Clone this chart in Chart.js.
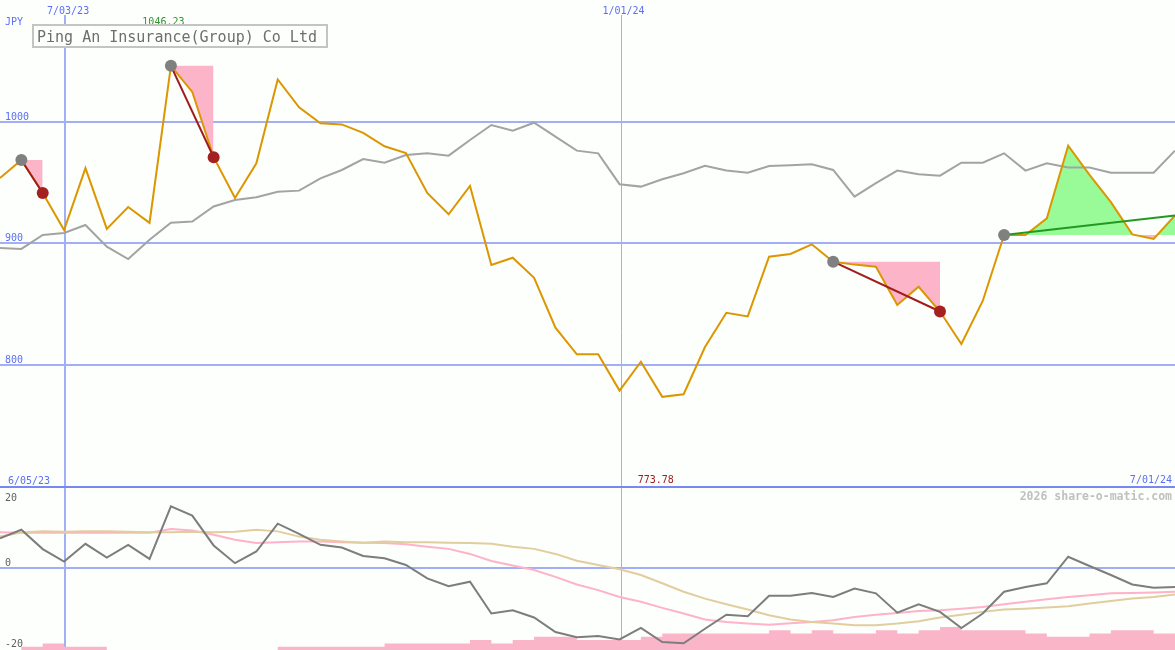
<!DOCTYPE html>
<html><head><meta charset="utf-8">
<script src="https://cdn.jsdelivr.net/npm/chart.js@4.4.1/dist/chart.umd.min.js"></script>
<style>html,body{margin:0;padding:0;background:#fcfffc;overflow:hidden}canvas{display:block}</style>
</head><body>
<canvas id="c" width="1175" height="650"></canvas>
<script>
// ---- data ----
const dates = ['6/12/23','6/19/23','6/26/23','7/03/23','7/10/23','7/17/23','7/24/23','7/31/23','8/07/23','8/14/23','8/21/23','8/28/23','9/04/23','9/11/23','9/18/23','9/25/23','10/02/23','10/09/23','10/16/23','10/23/23','10/30/23','11/06/23','11/13/23','11/20/23','11/27/23','12/04/23','12/11/23','12/18/23','12/25/23','1/01/24','1/08/24','1/15/24','1/22/24','1/29/24','2/05/24','2/12/24','2/19/24','2/26/24','3/04/24','3/11/24','3/18/24','3/25/24','4/01/24','4/08/24','4/15/24','4/22/24','4/29/24','5/06/24','5/13/24','5/20/24','5/27/24','6/03/24','6/10/24','6/17/24','6/24/24','7/01/24'];
const price = [953.9,968.7,941.6,911.1,962.0,912.0,930.0,917.0,1046.23,1024.7,971.0,937.4,966.0,1035.0,1012.0,999.0,998.0,991.0,980.0,974.5,941.6,924.0,947.3,882.3,888.3,871.8,830.7,808.8,808.8,778.9,802.7,773.78,775.9,814.8,843.0,840.0,889.1,891.4,899.3,885.0,882.6,880.9,849.4,864.4,844.0,817.3,852.7,907.0,907.0,920.7,980.5,956.5,934.0,907.5,903.7,923.0];
const compare = [896.3,895.5,907.0,908.6,915.2,897.4,887.2,903.0,917.0,918.0,930.5,935.8,938.0,942.6,943.5,953.6,960.5,969.5,966.5,972.8,974.2,972.3,985.2,997.5,992.8,999.4,987.9,976.4,974.2,948.8,946.8,952.8,957.8,964.0,960.0,958.3,963.8,964.4,965.2,960.5,938.6,949.6,960.0,957.0,955.8,966.5,966.5,974.2,960.0,966.0,962.5,962.5,958.3,958.3,958.3,976.4];
const momentum = [7.4,9.5,4.7,1.6,6.0,2.6,5.75,2.25,15.3,13.0,5.6,1.2,4.1,11.0,8.5,5.75,5.1,3.0,2.4,0.75,-2.6,-4.5,-3.4,-11.3,-10.5,-12.3,-15.9,-17.2,-16.9,-17.75,-14.9,-18.4,-18.7,-15.1,-11.6,-12.0,-6.9,-6.9,-6.2,-7.2,-5.1,-6.3,-11.1,-9.0,-10.9,-14.9,-11.3,-5.9,-4.7,-3.8,2.8,0.5,-1.75,-4.1,-4.9,-4.7];
const maFast = [8.9,8.75,8.75,8.75,8.75,8.75,8.75,8.75,9.7,9.3,8.25,7.0,6.2,6.4,6.6,6.6,6.4,6.3,6.2,5.9,5.3,4.75,3.5,1.75,0.6,-0.5,-2.2,-4.1,-5.5,-7.2,-8.4,-9.9,-11.3,-12.8,-13.4,-13.8,-14.1,-13.7,-13.4,-13.0,-12.2,-11.6,-11.2,-10.7,-10.5,-10.1,-9.7,-9.0,-8.4,-7.75,-7.2,-6.75,-6.3,-6.2,-6.1,-5.9];
const maSlow = [7.8,8.8,9.1,9.0,9.1,9.1,9.0,8.9,8.9,9.0,8.9,9.0,9.5,9.1,7.8,7.0,6.6,6.3,6.6,6.4,6.4,6.3,6.2,6.0,5.3,4.75,3.5,1.8,0.75,-0.3,-1.75,-3.8,-5.9,-7.6,-9.0,-10.3,-11.75,-12.8,-13.4,-13.8,-14.25,-14.25,-13.8,-13.2,-12.3,-11.6,-10.9,-10.3,-10.1,-9.8,-9.5,-8.8,-8.2,-7.6,-7.2,-6.6];
// weekly volume (each week drawn until the next week starts)
const volume = [0,1,2,1,1,0,0,0,0,0,0,0,0,1,1,1,1,1,2,2,2,2,3,2,3,4,4,3,3,3,4,5,5,5,5,5,6,5,6,5,5,6,5,6,7,6,6,6,5,4,4,5,6,6,5,5];
const priceTicks = [800, 900, 1000];
const oscTicks = [20, 0, -20];
const markedDates = ['7/03/23', '1/01/24'];
const rangeLabels = ['6/05/23', '7/01/24'];
const falls = [[1, 2], [8, 10], [39, 44]];
const rises = [[47, 55]];
const title = 'Ping An Insurance(Group) Co Ltd';
const currency = 'JPY';
const credit = '2026 share-o-matic.com';

// ---- styles ----
const BLUE = '#5b6ff5', GRID = '#a2aef5', SEP = '#7888f0';
const MONO = '"DejaVu Sans Mono", "Liberation Mono", monospace';

function sparse(entries) {
  const a = new Array(dates.length).fill(null);
  entries.forEach(([i, v]) => { a[i] = v; });
  return a;
}
function range(a, b) { const r = []; for (let i = a; i <= b; i++) r.push(i); return r; }

const datasets = [];
function line(data, color, order, extra) {
  return Object.assign({type: 'line', data, borderColor: color, backgroundColor: color, borderWidth: 2,
    pointRadius: 0, pointHoverRadius: 0, tension: 0, fill: false, order, xAxisID: 'x', yAxisID: 'y'}, extra || {});
}

// signal fills (level + price segment)
const signals = falls.map(s => ({s, rise: false})).concat(rises.map(s => ({s, rise: true})));
signals.forEach(({s, rise}) => {
  const [a, b] = s;
  const lvlIdx = datasets.length;
  datasets.push(line(sparse(range(a, b).map(i => [i, price[a]])), 'rgba(0,0,0,0)', 8));
  datasets.push(line(sparse(range(a, b).map(i => [i, price[i]])), 'rgba(0,0,0,0)', 7,
    {fill: {target: lvlIdx, above: '#98fb98', below: '#fcb4c9'}}));
});
// main lines
datasets.push(line(compare, '#a3a3a3', 4));
datasets.push(line(price, '#dc9600', 3));
// signal connector lines
signals.forEach(({s, rise}) => {
  const [a, b] = s;
  datasets.push(line(sparse([[a, price[a]], [b, price[b]]]), rise ? '#229922' : '#a01c1c', 2, {spanGaps: true}));
});
// dots
datasets.push(line(sparse(signals.map(({s}) => [s[0], price[s[0]]])), '#808080', 1,
  {showLine: false, pointRadius: 6, pointBorderWidth: 0, pointBackgroundColor: '#808080'}));
datasets.push(line(sparse(falls.map(s => [s[1], price[s[1]]])), '#a52020', 0,
  {showLine: false, pointRadius: 6, pointBorderWidth: 0, pointBackgroundColor: '#a52020'}));
// lower panel
datasets.push(line(maFast, '#ffb2c8', 6, {yAxisID: 'y2'}));
datasets.push(line(maSlow, '#e2cd9e', 5, {yAxisID: 'y2'}));
datasets.push(line(momentum, '#7d7d7d', 4, {yAxisID: 'y2'}));
datasets.push(line(volume, 'rgba(0,0,0,0)', 9, {yAxisID: 'y3', stepped: 'before', borderWidth: 0,
  fill: 'start', backgroundColor: '#fbb5c9'}));

const panel = {
  id: 'panel',
  beforeDraw(chart) {
    const ctx = chart.ctx;
    ctx.save(); ctx.fillStyle = '#fcfffc'; ctx.fillRect(0, 0, chart.width, chart.height); ctx.restore();
  },
  beforeDatasetsDraw(chart) {
    const {ctx, scales: {x, y, y2}} = chart;
    const W = chart.width, H = chart.height;
    ctx.save();
    ctx.strokeStyle = GRID; ctx.lineWidth = 2;
    priceTicks.forEach(v => { const py = Math.round(y.getPixelForValue(v)); ctx.beginPath(); ctx.moveTo(0, py); ctx.lineTo(W, py); ctx.stroke(); });
    const pz = Math.round(y2.getPixelForValue(0));
    ctx.beginPath(); ctx.moveTo(0, pz); ctx.lineTo(W, pz); ctx.stroke();
    markedDates.forEach((d, k) => {
      const px = Math.round(x.getPixelForValue(dates.indexOf(d))) + 1;
      ctx.lineWidth = k === 0 ? 2 : 1;
      const off = k === 0 ? 0 : 0.5;
      ctx.beginPath(); ctx.moveTo(px + off, 15); ctx.lineTo(px + off, H); ctx.stroke();
    });
    ctx.strokeStyle = SEP; ctx.lineWidth = 2;
    const ps = Math.round(y2.getPixelForValue(oscTicks[0]));
    ctx.beginPath(); ctx.moveTo(0, ps); ctx.lineTo(W, ps); ctx.stroke();
    ctx.restore();
  },
  afterDatasetsDraw(chart) {
    const {ctx, scales: {x, y, y2}} = chart;
    const W = chart.width;
    ctx.save();
    ctx.font = '10px ' + MONO;
    ctx.textBaseline = 'alphabetic';
    // blue axis labels
    ctx.fillStyle = BLUE; ctx.textAlign = 'left';
    ctx.fillText(currency, 5, 25);
    priceTicks.forEach(v => ctx.fillText(String(v), 5, Math.round(y.getPixelForValue(v)) - 2.5));
    ctx.textAlign = 'center';
    markedDates.forEach(d => ctx.fillText(d, x.getPixelForValue(dates.indexOf(d)) + 4, 13.5));
    ctx.textAlign = 'left';
    const sepY = Math.round(y2.getPixelForValue(oscTicks[0]));
    ctx.fillText(rangeLabels[0], 8, sepY - 3.5);
    ctx.textAlign = 'right';
    ctx.fillText(rangeLabels[1], W - 3, sepY - 4);
    // max / min labels
    const hi = Math.max(...price), lo = Math.min(...price);
    const hiI = price.indexOf(hi), loI = price.indexOf(lo);
    ctx.textAlign = 'center';
    ctx.fillStyle = '#2a9a2a';
    ctx.fillText(hi.toFixed(2), x.getPixelForValue(hiI) - 7.5, 25);
    ctx.fillStyle = '#a01c1c';
    ctx.fillText(lo.toFixed(2), x.getPixelForValue(loI) - 6.5, sepY - 4);
    // oscillator labels
    ctx.fillStyle = '#606060'; ctx.textAlign = 'left';
    oscTicks.forEach((v, k) => {
      const py = y2.getPixelForValue(v);
      ctx.fillText(String(v), 5, k === 0 ? py + 13.5 : py - 2);
    });
    // credit
    ctx.font = 'bold 11.5px ' + MONO;
    ctx.fillStyle = '#c0c0c0'; ctx.textAlign = 'right';
    ctx.fillText(credit, W - 3, sepY + 13);
    // title box
    ctx.fillStyle = '#fcfffc';
    ctx.fillRect(33, 25, 294, 22);
    ctx.strokeStyle = '#c4c4c4'; ctx.lineWidth = 2;
    ctx.strokeRect(33, 25, 294, 22);
    ctx.font = '15px ' + MONO;
    ctx.fillStyle = '#6e6e6e'; ctx.textAlign = 'left';
    ctx.fillText(title, 37, 42);
    ctx.restore();
  }
};

new Chart(document.getElementById('c'), {
  data: {labels: dates, datasets},
  options: {
    responsive: false, animation: false, events: [],
    layout: {padding: 0, autoPadding: false},
    plugins: {legend: {display: false}, tooltip: {enabled: false}, title: {display: false}},
    scales: {
      x: {type: 'category', labels: dates, offset: false, display: false},
      y: {type: 'linear', min: 565.4, max: 1100.4, display: false},
      y2: {type: 'linear', min: -20.37, max: 141.1, display: false},
      y3: {type: 'linear', min: 0, max: 197, display: false}
    }
  },
  plugins: [panel]
});
</script>
</body></html>
